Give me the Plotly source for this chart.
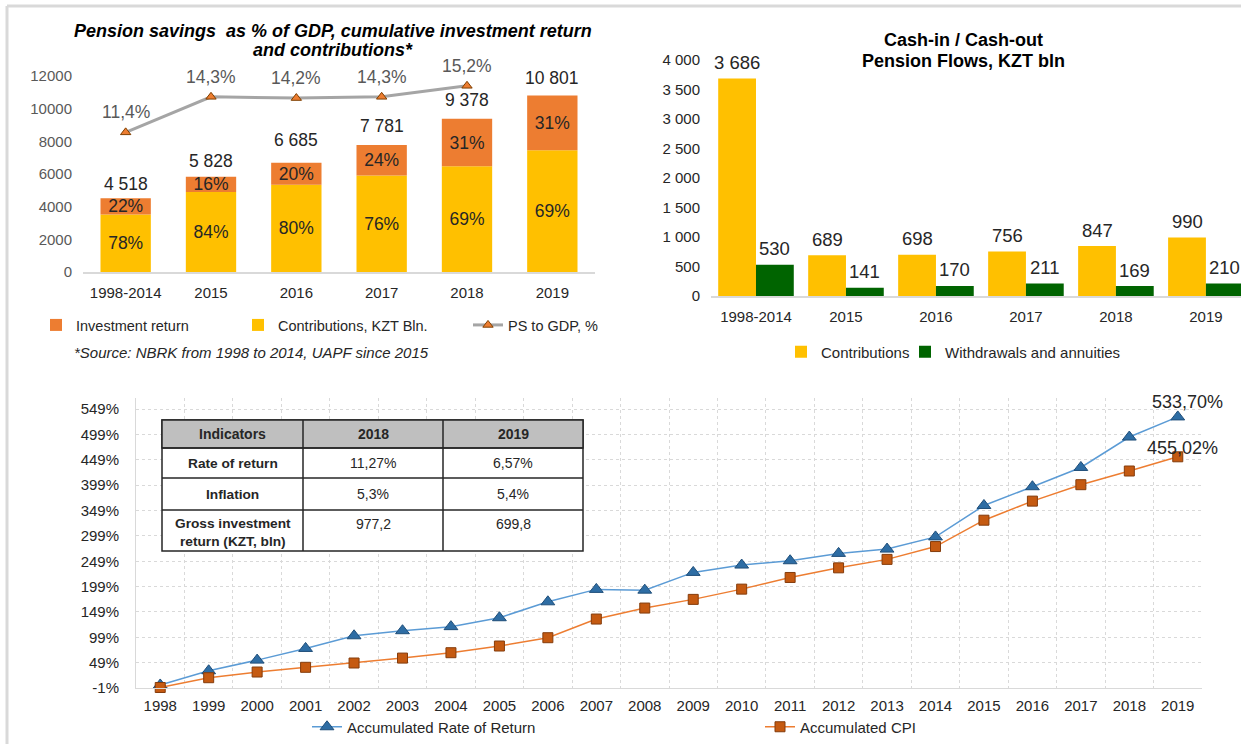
import plotly.graph_objects as go

W, H = 1241, 744

# ---------------- Data: top-left chart ----------------
tl_categories = ["1998-2014", "2015", "2016", "2017", "2018", "2019"]
tl_contributions = [3524, 4896, 5348, 5914, 6471, 7453]
tl_investment = [994, 932, 1337, 1867, 2907, 3348]
tl_contrib_share = ["78%", "84%", "80%", "76%", "69%", "69%"]
tl_invest_share = ["22%", "16%", "20%", "24%", "31%", "31%"]
tl_gdp_categories = ["1998-2014", "2015", "2016", "2017", "2018"]
tl_ps_to_gdp = [11.4, 14.3, 14.2, 14.3, 15.2]

# ---------------- Data: top-right chart ----------------
tr_categories = ["1998-2014", "2015", "2016", "2017", "2018", "2019"]
tr_contributions = [3686, 689, 698, 756, 847, 990]
tr_withdrawals = [530, 141, 170, 211, 169, 210]

# ---------------- Data: bottom chart ----------------
bt_years = [str(y) for y in range(1998, 2020)]
bt_rate_of_return = [5, 33, 54, 77, 102, 112, 120, 137.6, 169, 193.5, 192, 227,
                     241.5, 250, 264.5, 273, 297, 359, 396, 434, 494, 533.70]
bt_cpi = [0, 19.3, 30.5, 39.8, 48.3, 58, 68.6, 81.8, 98.2, 135, 156.7, 173.8,
          194, 217, 236, 252.7, 278, 330, 367.6, 400, 427, 455.02]
bt_yticks = list(range(-1, 550, 50))

# ---------------- Data: table ----------------
table_header = ["Indicators", "2018", "2019"]
table_indicators = ["Rate of return", "Inflation", "Gross investment<br>return (KZT, bln)"]
table_2018 = ["11,27%", "5,3%", "977,2"]
table_2019 = ["6,57%", "5,4%", "699,8"]

# label placement style (pixel offsets above the value, as in the source chart)
tl_total_label_shift = [14, 16, 23, 19, 19, 18]

YELLOW = "#FFC000"
ORANGE = "#ED7D31"
GREEN = "#006400"
FONT = "Liberation Sans, Arial, sans-serif"
TXT = "#262626"


def fx(px):
    return px / W


def fy(py):
    return 1 - py / H


def thousands(v):
    return f"{v:,}".replace(",", " ")


def pct_label(v, nd):
    return f"{v:.{nd}f}".replace(".", ",") + "%"


fig = go.Figure()
annotations = []
shapes = []

# ---- top-left ----
fig.add_trace(go.Bar(
    x=tl_categories, y=tl_contributions, name="Contributions, KZT Bln.",
    marker=dict(color=YELLOW, line=dict(width=0)), text=tl_contrib_share, textposition="inside",
    insidetextanchor="middle", constraintext="none", textangle=0, width=0.59,
    textfont=dict(size=17.5, color=TXT, family=FONT),
    xaxis="x", yaxis="y", legend="legend2", hoverinfo="skip"))
fig.add_trace(go.Bar(
    x=tl_categories, y=tl_investment, base=tl_contributions, name="Investment return",
    marker=dict(color=ORANGE, line=dict(width=0)), text=tl_invest_share, textposition="inside",
    insidetextanchor="middle", constraintext="none", textangle=0, width=0.59,
    textfont=dict(size=17.5, color=TXT, family=FONT),
    xaxis="x", yaxis="y", legend="legend", hoverinfo="skip"))
fig.add_trace(go.Scatter(
    x=tl_gdp_categories, y=tl_ps_to_gdp, mode="lines+markers",
    name="PS to GDP, %",
    line=dict(color="#A5A5A5", width=3),
    marker=dict(symbol="triangle-up", size=9, color=ORANGE,
                line=dict(color="#7F3F00", width=1)),
    xaxis="x", yaxis="y2", legend="legend3", cliponaxis=False, hoverinfo="skip"))

tl_totals = [c + i for c, i in zip(tl_contributions, tl_investment)]
for i, (tot, sh) in enumerate(zip(tl_totals, tl_total_label_shift)):
    annotations.append(dict(
        x=i, y=tot, xref="x", yref="y", xanchor="center", yanchor="middle",
        yshift=sh, text=thousands(tot), showarrow=False,
        font=dict(size=17.5, color=TXT, family=FONT)))
for i, v in enumerate(tl_ps_to_gdp):
    annotations.append(dict(
        x=i, y=v, xref="x", yref="y2", xanchor="center", yanchor="middle",
        yshift=20, text=pct_label(v, 1), showarrow=False,
        font=dict(size=17.5, color="#595959", family=FONT)))

# ---- top-right ----
fig.add_trace(go.Bar(
    x=tr_categories, y=tr_contributions, name="Contributions",
    marker=dict(color=YELLOW, line=dict(width=0)),
    xaxis="x3", yaxis="y3", legend="legend4",
    width=0.42, offset=-0.42, hoverinfo="skip"))
fig.add_trace(go.Bar(
    x=tr_categories, y=tr_withdrawals, name="Withdrawals and annuities",
    marker=dict(color=GREEN, line=dict(width=0)),
    xaxis="x3", yaxis="y3", legend="legend5",
    width=0.42, offset=0.0, hoverinfo="skip"))
for i, (c, w) in enumerate(zip(tr_contributions, tr_withdrawals)):
    annotations.append(dict(
        x=i - 0.21, y=c, xref="x3", yref="y3", xanchor="center", yanchor="middle",
        yshift=16, text=thousands(c), showarrow=False,
        font=dict(size=18.5, color=TXT, family=FONT)))
    annotations.append(dict(
        x=i + 0.21, y=w, xref="x3", yref="y3", xanchor="center", yanchor="middle",
        yshift=16, text=thousands(w), showarrow=False,
        font=dict(size=18.5, color=TXT, family=FONT)))

# ---- bottom ----
fig.add_trace(go.Scatter(
    x=bt_years, y=bt_rate_of_return, mode="lines+markers",
    name="Accumulated Rate of Return",
    line=dict(color="#5B9BD5", width=1.5),
    marker=dict(symbol="triangle-up", size=12, color="#2E6DA4",
                line=dict(color="#1F4E79", width=1)),
    xaxis="x4", yaxis="y4", legend="legend6", cliponaxis=False, hoverinfo="skip"))
fig.add_trace(go.Scatter(
    x=bt_years, y=bt_cpi, mode="lines+markers",
    name="Accumulated CPI",
    line=dict(color=ORANGE, width=1.5),
    marker=dict(symbol="square", size=10, color="#C55A11",
                line=dict(color="#843C0C", width=1)),
    xaxis="x4", yaxis="y4", legend="legend7", cliponaxis=False, hoverinfo="skip"))

last = len(bt_years) - 1
annotations.append(dict(
    x=last, y=bt_rate_of_return[-1], xref="x4", yref="y4",
    xanchor="center", yanchor="middle",
    text=pct_label(bt_rate_of_return[-1], 2), showarrow=False, yshift=15, xshift=10,
    font=dict(size=18, color=TXT, family=FONT)))
annotations.append(dict(
    x=last, y=bt_cpi[-1], xref="x4", yref="y4",
    xanchor="center", yanchor="middle",
    text=pct_label(bt_cpi[-1], 2), showarrow=False, yshift=9, xshift=5,
    font=dict(size=18, color=TXT, family=FONT)))

# Titles
for txt, py in [("<b><i>Pension savings  as % of GDP, cumulative investment return</i></b>", 31),
                ("<b><i>and contributions*</i></b>", 50)]:
    annotations.append(dict(
        x=fx(333), y=fy(py), xref="paper", yref="paper", xanchor="center", yanchor="middle",
        text=txt, showarrow=False, font=dict(size=18, color="#000000", family=FONT)))
for txt, py in [("<b>Cash-in / Cash-out</b>", 40), ("<b>Pension Flows, KZT bln</b>", 61)]:
    annotations.append(dict(
        x=fx(963), y=fy(py), xref="paper", yref="paper", xanchor="center", yanchor="middle",
        text=txt, showarrow=False, font=dict(size=18, color="#000000", family=FONT)))
annotations.append(dict(
    x=fx(72), y=fy(352), xref="paper", yref="paper", xanchor="left", yanchor="middle",
    text="<i>*Source: NBRK from 1998 to 2014, UAPF since 2015</i>",
    showarrow=False, font=dict(size=15, color=TXT, family=FONT)))

# Frame lines
shapes.append(dict(type="line", xref="paper", yref="paper", x0=fx(7), x1=1,
                   y0=fy(6), y1=fy(6), line=dict(color="#D9D9D9", width=3)))
shapes.append(dict(type="line", xref="paper", yref="paper", x0=fx(7), x1=fx(7),
                   y0=fy(6), y1=0, line=dict(color="#D9D9D9", width=3)))

# Table
col_x = [162, 303, 443, 583]
row_y = [420, 448, 478, 510, 551]
shapes.append(dict(type="rect", xref="paper", yref="paper",
                   x0=fx(col_x[0]), x1=fx(col_x[-1]), y0=fy(row_y[-1]), y1=fy(row_y[0]),
                   fillcolor="#FFFFFF", line=dict(color="#262626", width=1.5), layer="above"))
shapes.append(dict(type="rect", xref="paper", yref="paper",
                   x0=fx(col_x[0]), x1=fx(col_x[-1]), y0=fy(row_y[1]), y1=fy(row_y[0]),
                   fillcolor="#BFBFBF", line=dict(color="#262626", width=1.5), layer="above"))
for cx in col_x[1:-1]:
    shapes.append(dict(type="line", xref="paper", yref="paper", x0=fx(cx), x1=fx(cx),
                       y0=fy(row_y[-1]), y1=fy(row_y[0]),
                       line=dict(color="#262626", width=1.5), layer="above"))
for ry in row_y[1:-1]:
    shapes.append(dict(type="line", xref="paper", yref="paper", x0=fx(col_x[0]), x1=fx(col_x[-1]),
                       y0=fy(ry), y1=fy(ry), line=dict(color="#262626", width=1.5), layer="above"))

for j, h in enumerate(table_header):
    annotations.append(dict(
        x=fx((col_x[j] + col_x[j + 1]) / 2), y=fy((row_y[0] + row_y[1]) / 2),
        xref="paper", yref="paper", xanchor="center", yanchor="middle",
        text=f"<b>{h}</b>", showarrow=False,
        font=dict(size=14, color=TXT, family=FONT)))
for i in range(3):
    top, bot = row_y[i + 1], row_y[i + 2]
    if i < 2:
        cy = (top + bot) / 2
        yanchor = "middle"
    else:
        cy = top + 4
        yanchor = "top"
    annotations.append(dict(
        x=fx((col_x[0] + col_x[1]) / 2), y=fy(cy), xref="paper", yref="paper",
        xanchor="center", yanchor=yanchor, text=f"<b>{table_indicators[i]}</b>", showarrow=False,
        font=dict(size=13.7, color=TXT, family=FONT), align="center"))
    for j, vals in enumerate([table_2018, table_2019]):
        annotations.append(dict(
            x=fx((col_x[j + 1] + col_x[j + 2]) / 2), y=fy(cy), xref="paper", yref="paper",
            xanchor="center", yanchor=yanchor, text=vals[i], showarrow=False,
            font=dict(size=14, color=TXT, family=FONT)))


def leg(x, y, size):
    return dict(orientation="h", bgcolor="rgba(0,0,0,0)", xanchor="left", yanchor="middle",
                font=dict(size=size, color=TXT, family=FONT), itemwidth=30,
                x=fx(x), y=fy(y))


axis_common = dict(automargin=False)

fig.update_layout(
    template="none",
    width=W, height=H,
    margin=dict(l=0, r=0, t=0, b=0, pad=0, autoexpand=False),
    paper_bgcolor="#FFFFFF", plot_bgcolor="rgba(0,0,0,0)",
    font=dict(family=FONT, color=TXT),
    barmode="overlay",
    hovermode=False,
    separators=", ",
    xaxis=dict(**axis_common, domain=[fx(83), fx(595)], anchor="y", type="category",
               showgrid=False, showline=True, linecolor="#D9D9D9", linewidth=1.5,
               ticks="", tickfont=dict(size=15, color=TXT), ticklabelstandoff=6),
    yaxis=dict(**axis_common, domain=[fy(272), fy(76)], anchor="x", range=[0, 12000], dtick=2000,
               tickformat="d", showgrid=False, zeroline=False, showline=False, ticks="",
               tickfont=dict(size=15, color="#595959"), ticklabelstandoff=10),
    yaxis2=dict(**axis_common, overlaying="y", anchor="x", range=[0, 16], visible=False),
    xaxis3=dict(**axis_common, domain=[fx(711), 1.0], anchor="y3", type="category",
                range=[-0.5, 5.39],
                showgrid=False, showline=True, linecolor="#D9D9D9", linewidth=1.5,
                ticks="", tickfont=dict(size=15, color=TXT), ticklabelstandoff=6),
    yaxis3=dict(**axis_common, domain=[fy(296), fy(60)], anchor="x3", range=[0, 4000], dtick=500,
                tickformat=",d", showgrid=False, zeroline=False, showline=False, ticks="",
                tickfont=dict(size=15, color=TXT), ticklabelstandoff=10),
    xaxis4=dict(**axis_common, domain=[fx(136), fx(1202)], anchor="y4", type="category",
                range=[-0.5, 21.5], tickson="boundaries",
                showgrid=True, gridcolor="#D9D9D9", griddash="dot", gridwidth=1,
                showline=True, linecolor="#D9D9D9", mirror=False,
                ticks="", tickfont=dict(size=15, color=TXT), ticklabelstandoff=4),
    yaxis4=dict(**axis_common, domain=[fy(688), fy(398)], anchor="x4", range=[-1, 571],
                tickvals=bt_yticks, ticktext=[f"{v}%" for v in bt_yticks],
                showgrid=True, gridcolor="#D9D9D9", griddash="dot", gridwidth=1,
                zeroline=False, showline=True, linecolor="#D9D9D9", ticks="",
                tickfont=dict(size=15, color=TXT), ticklabelstandoff=13),
    legend=leg(36, 325, 14.5),
    legend2=leg(238, 325, 14.5),
    legend3=leg(468, 325, 14.5),
    legend4=leg(781, 352, 15),
    legend5=leg(905, 352, 15),
    legend6=leg(307, 727, 15),
    legend7=leg(760, 727, 15),
    annotations=annotations,
    shapes=shapes,
    showlegend=True,
)

fig.write_html(
    "out.html",
    config={"displayModeBar": False},
    post_script="document.body.style.margin='0';document.body.style.overflow='hidden';",
)
